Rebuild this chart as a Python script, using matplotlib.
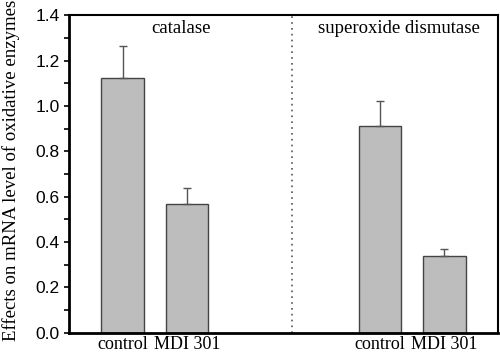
import numpy as np
import matplotlib.pyplot as plt

# data
groups = ["catalase", "superoxide dismutase"]
labels = ["control", "MDI 301", "control", "MDI 301"]
values = [1.125, 0.57, 0.91, 0.34]
errors = [0.14, 0.07, 0.11, 0.03]
positions = [1.25, 2.75, 7.25, 8.75]
group_x = [2.6, 7.7]

fig = plt.figure(figsize=(5, 3.53), dpi=100)
ax = fig.add_axes([0.138, 0.057, 0.858, 0.90])

lower = np.zeros(len(errors))
ax.bar(positions, values, width=1.0, color='#bdbdbd', edgecolor='#444444', linewidth=1.0,
       yerr=[lower, errors], error_kw=dict(ecolor='#555555', elinewidth=1.0, capsize=3, capthick=1.0))

ax.axvline(5.2, color='#555555', linestyle=(0, (1, 2.5)), linewidth=1.2)

for gx, g in zip(group_x, groups):
    ax.text(gx, 1.343, g, ha='center', va='center', family='Liberation Serif', fontsize=13.5)

ax.set_xlim(0, 10)
ax.set_ylim(0, 1.4)
ax.set_xticks(positions)
ax.set_xticklabels(labels, family='Liberation Serif', fontsize=13)
ax.tick_params(axis='x', length=0, pad=2)
ax.set_yticks(np.arange(0, 1.41, 0.2))
ax.set_yticks(np.arange(0.1, 1.4, 0.2), minor=True)
ax.yaxis.set_major_formatter(plt.FormatStrFormatter('%.1f'))
ax.tick_params(axis='y', which='both', direction='out', length=3.5, width=1.2, labelsize=12.5, pad=3)
for lbl in ax.get_yticklabels():
    lbl.set_family('Liberation Sans')

ax.set_ylabel("Effects on mRNA level of oxidative enzymes", family='Liberation Serif', fontsize=13.5)
ax.yaxis.set_label_coords(-0.114, 0.51)

for s in ['left', 'bottom']:
    ax.spines[s].set_linewidth(2.0)
for s in ['top', 'right']:
    ax.spines[s].set_linewidth(1.5)

fig.savefig('out.png', dpi=100)
